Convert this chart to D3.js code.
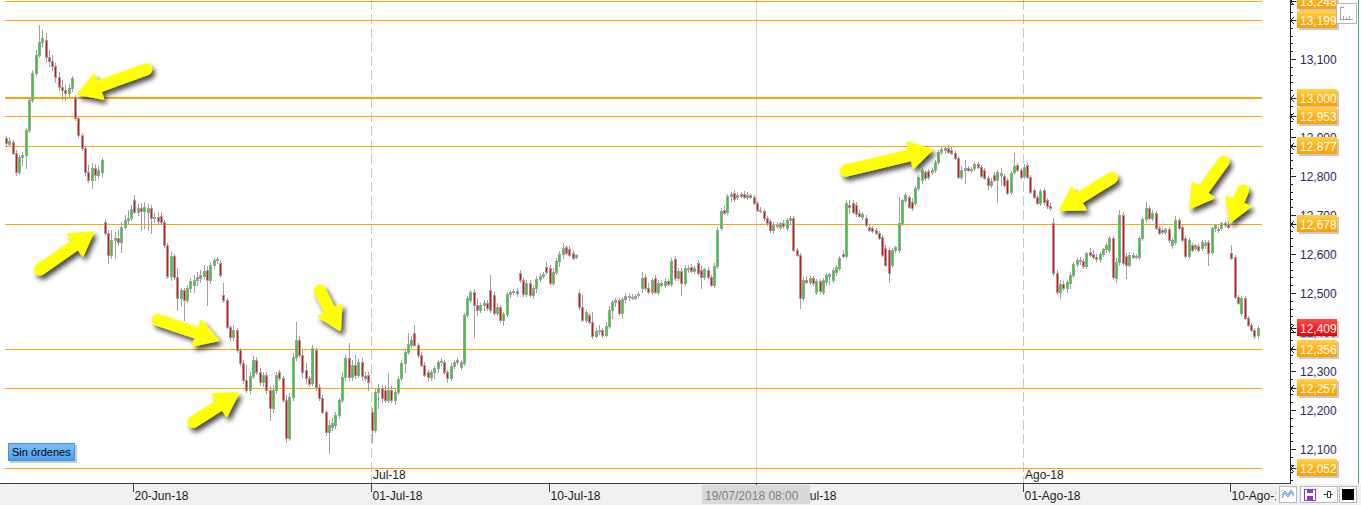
<!DOCTYPE html>
<html><head><meta charset="utf-8">
<script src="https://cdn.jsdelivr.net/npm/d3@7"></script>
<style>html,body{margin:0;padding:0;background:#fff;overflow:hidden}svg{display:block;font-family:"Liberation Sans",Arial,sans-serif}</style>
</head><body>
<svg id="c" width="1361" height="505"></svg>
<script>
// hourly candles [open, high, low, close], 13-Jun-18 (partial) .. 10-Ago-18
const candles = [
[12897,12902,12877,12885],[12882,12900,12879,12890],[12887,12892,12856,12859],
[12859,12867,12803,12810],[12810,12854,12805,12849],[12849,12861,12828,12854],[12854,12923,12820,12918],[12918,13000,12913,12995],[12995,13072,12990,13064],[13064,13123,13059,13110],[13110,13187,13105,13143],[13143,13174,13133,13154],
[13149,13166,13092,13105],[13105,13123,13082,13095],[13095,13110,13072,13082],[13082,13090,13041,13054],[13054,13066,13020,13028],[13028,13046,12995,13020],[13020,13033,12995,13013],[13013,13036,13005,13026],[13026,13056,13018,13051],
[13003,13008,12944,12949],[12949,12954,12900,12905],[12905,12910,12867,12872],[12872,12877,12803,12810],[12810,12828,12785,12790],[12790,12833,12769,12820],[12820,12831,12790,12803],[12803,12826,12795,12815],[12810,12846,12800,12841],
[12682,12690,12649,12654],[12654,12662,12577,12597],[12597,12662,12590,12636],[12636,12656,12590,12641],[12641,12662,12623,12631],[12631,12682,12605,12669],[12669,12700,12667,12687],[12687,12713,12677,12692],[12692,12726,12687,12715],
[12738,12751,12705,12708],[12708,12728,12700,12718],[12718,12731,12662,12710],[12710,12733,12667,12720],[12708,12728,12662,12718],[12718,12726,12654,12692],[12692,12705,12682,12695],[12695,12708,12677,12685],[12697,12708,12677,12682],
[12682,12687,12618,12623],[12623,12628,12538,12544],[12544,12605,12533,12595],[12595,12600,12536,12541],[12541,12564,12456,12487],[12487,12513,12467,12508],[12508,12513,12431,12482],[12482,12521,12477,12513],[12513,12538,12503,12531],
[12521,12546,12503,12533],[12533,12554,12521,12541],[12538,12559,12528,12546],[12544,12572,12538,12556],[12559,12569,12469,12533],[12533,12579,12526,12572],[12572,12590,12564,12585],[12585,12592,12577,12587],[12577,12585,12541,12546],
[12495,12526,12477,12482],[12482,12487,12410,12413],[12413,12418,12379,12387],[12387,12418,12379,12405],[12405,12410,12349,12354],[12354,12359,12315,12320],[12320,12328,12269,12277],[12277,12315,12246,12251],[12251,12297,12244,12287],
[12287,12338,12282,12328],[12328,12336,12292,12297],[12297,12308,12264,12272],[12272,12297,12262,12290],[12290,12297,12244,12251],[12251,12262,12174,12205],[12205,12264,12195,12251],[12251,12297,12244,12290],[12297,12303,12277,12282],
[12282,12287,12220,12226],[12226,12238,12118,12128],[12128,12244,12123,12233],[12233,12346,12226,12336],[12336,12426,12328,12379],[12379,12390,12336,12341],[12341,12354,12285,12297],[12303,12320,12269,12282],[12282,12287,12262,12267],
[12269,12367,12264,12359],[12354,12359,12251,12259],[12259,12267,12226,12231],[12231,12238,12192,12195],[12195,12200,12136,12144],[12144,12174,12090,12162],[12157,12179,12149,12167],[12162,12195,12154,12187],[12187,12231,12179,12226],
[12226,12297,12220,12285],[12285,12341,12277,12333],[12333,12372,12277,12285],[12285,12328,12277,12315],[12315,12341,12282,12290],[12290,12333,12285,12323],[12323,12333,12277,12287],[12287,12297,12277,12282],[12290,12297,12251,12272],
[12195,12205,12118,12149],[12149,12256,12144,12246],[12246,12267,12205,12256],[12256,12264,12220,12231],[12251,12264,12220,12226],[12226,12295,12220,12251],[12251,12262,12220,12226],[12226,12256,12215,12246],[12246,12287,12241,12279],
[12282,12328,12277,12320],[12320,12354,12297,12349],[12349,12397,12344,12369],[12367,12390,12362,12379],[12397,12418,12364,12367],[12367,12372,12336,12341],[12341,12349,12313,12315],[12315,12323,12287,12290],[12297,12303,12277,12285],
[12285,12303,12277,12297],[12297,12313,12282,12308],[12308,12328,12297,12323],[12323,12333,12315,12326],[12323,12328,12292,12297],[12297,12303,12272,12282],[12282,12320,12277,12313],[12313,12328,12308,12323],[12323,12333,12318,12328],
[12310,12328,12305,12323],[12320,12449,12315,12444],[12444,12492,12438,12487],[12482,12508,12477,12503],[12503,12510,12387,12469],[12469,12487,12444,12456],[12456,12474,12451,12469],[12469,12482,12456,12474],[12474,12482,12456,12462],
[12508,12546,12451,12456],[12495,12503,12444,12449],[12449,12474,12444,12464],[12464,12469,12426,12431],[12431,12451,12418,12446],[12446,12503,12441,12497],[12497,12508,12490,12503],[12503,12510,12497,12505],[12505,12513,12492,12500],
[12551,12559,12528,12533],[12533,12538,12492,12497],[12497,12533,12492,12526],[12526,12533,12490,12495],[12495,12521,12487,12513],[12513,12544,12503,12536],[12536,12551,12531,12544],[12544,12554,12538,12549],[12567,12579,12549,12554],
[12564,12572,12523,12526],[12526,12564,12521,12554],[12554,12590,12549,12582],[12582,12608,12569,12600],[12600,12628,12590,12615],[12618,12623,12600,12603],[12613,12620,12595,12597],[12603,12610,12587,12590],[12592,12600,12590,12597],
[12500,12508,12459,12464],[12464,12495,12428,12431],[12431,12456,12426,12451],[12444,12449,12423,12426],[12426,12451,12385,12390],[12390,12410,12387,12403],[12403,12418,12395,12405],[12405,12410,12387,12392],[12392,12426,12390,12415],
[12415,12467,12410,12456],[12456,12482,12436,12477],[12477,12487,12467,12482],[12482,12487,12444,12449],[12449,12490,12436,12485],[12485,12500,12477,12492],[12492,12500,12482,12490],[12490,12497,12485,12487],[12487,12497,12485,12492],
[12495,12503,12490,12497],[12513,12554,12503,12538],[12541,12549,12508,12513],[12513,12526,12500,12503],[12503,12538,12497,12533],[12538,12546,12500,12503],[12503,12533,12497,12526],[12526,12533,12518,12521],[12521,12538,12515,12531],
[12531,12536,12521,12523],[12523,12590,12518,12582],[12587,12595,12533,12538],[12538,12564,12533,12556],[12556,12564,12495,12526],[12526,12572,12521,12564],[12564,12572,12554,12562],[12567,12574,12554,12556],[12556,12569,12551,12564],
[12577,12585,12546,12551],[12559,12569,12513,12541],[12541,12564,12536,12562],[12559,12567,12538,12541],[12541,12546,12518,12521],[12521,12577,12515,12569],[12569,12669,12564,12662],[12667,12718,12662,12710],[12713,12723,12702,12705],
[12708,12754,12702,12749],[12749,12759,12736,12754],[12756,12764,12736,12741],[12746,12756,12741,12751],[12754,12759,12746,12749],[12754,12761,12744,12746],[12746,12759,12741,12751],[12751,12756,12744,12746],[12746,12751,12728,12731],
[12731,12736,12710,12713],[12713,12720,12708,12710],[12710,12715,12687,12692],[12692,12697,12674,12679],[12685,12690,12656,12662],[12662,12682,12654,12674],[12674,12682,12667,12672],[12669,12682,12664,12679],[12679,12687,12667,12672],
[12667,12692,12662,12687],[12687,12697,12677,12692],[12692,12697,12608,12610],[12610,12615,12595,12597],[12597,12603,12462,12487],[12487,12541,12482,12533],[12533,12544,12526,12528],[12528,12544,12523,12538],[12538,12544,12521,12526],
[12503,12536,12497,12531],[12531,12536,12500,12505],[12503,12538,12497,12533],[12528,12551,12521,12546],[12544,12551,12523,12549],[12533,12564,12528,12559],[12554,12572,12546,12567],[12564,12595,12559,12590],[12600,12610,12592,12595],
[12595,12738,12590,12731],[12726,12738,12705,12720],[12731,12738,12705,12708],[12726,12733,12697,12702],[12705,12713,12695,12697],[12695,12708,12690,12702],[12692,12700,12672,12674],[12669,12677,12659,12662],[12667,12672,12656,12659],
[12662,12667,12651,12654],[12654,12659,12638,12641],[12644,12649,12595,12597],[12615,12623,12569,12572],[12610,12618,12528,12551],[12572,12615,12567,12610],[12610,12620,12605,12618],[12610,12746,12605,12679],[12679,12741,12674,12738],
[12738,12756,12733,12751],[12746,12751,12718,12720],[12733,12744,12713,12718],[12731,12774,12726,12769],[12769,12803,12764,12797],[12790,12820,12782,12815],[12810,12815,12790,12795],[12813,12818,12792,12797],[12810,12820,12805,12815],
[12815,12841,12810,12836],[12836,12867,12831,12861],[12861,12874,12856,12869],[12867,12874,12859,12872],[12872,12879,12859,12861],[12867,12874,12856,12859],[12859,12864,12844,12846],[12846,12851,12795,12797],[12797,12826,12792,12815],
[12815,12841,12782,12820],[12820,12826,12813,12815],[12815,12823,12810,12818],[12820,12836,12815,12831],[12831,12836,12820,12823],[12823,12828,12797,12800],[12815,12820,12792,12795],[12795,12800,12767,12777],[12777,12795,12772,12787],
[12803,12810,12787,12790],[12790,12815,12733,12810],[12803,12820,12777,12808],[12800,12805,12774,12777],[12790,12795,12754,12756],[12759,12813,12754,12808],[12810,12859,12805,12826],[12828,12833,12813,12815],[12815,12820,12795,12797],
[12800,12831,12795,12823],[12828,12833,12795,12797],[12797,12803,12756,12759],[12764,12769,12744,12746],[12746,12751,12728,12731],[12731,12767,12726,12761],[12764,12769,12728,12733],[12738,12744,12718,12723],[12723,12731,12713,12718],
[12679,12692,12546,12551],[12551,12559,12497,12503],[12503,12533,12487,12523],[12523,12531,12508,12513],[12513,12533,12503,12528],[12526,12554,12513,12546],[12546,12579,12541,12574],[12574,12590,12569,12585],[12585,12592,12574,12582],
[12582,12587,12564,12569],[12569,12605,12564,12603],[12605,12615,12595,12597],[12600,12610,12590,12592],[12592,12600,12582,12587],[12587,12605,12579,12600],[12600,12615,12595,12613],[12613,12628,12605,12623],[12610,12646,12605,12641],
[12641,12646,12536,12541],[12538,12590,12528,12579],[12579,12713,12572,12700],[12700,12708,12574,12577],[12595,12603,12538,12572],[12572,12605,12569,12597],[12597,12603,12590,12592],[12595,12600,12590,12592],[12592,12646,12587,12641],
[12641,12695,12636,12690],[12690,12733,12685,12718],[12718,12723,12690,12692],[12692,12713,12687,12705],[12705,12710,12664,12667],[12667,12672,12651,12654],[12662,12667,12654,12656],[12656,12667,12651,12664],[12664,12669,12631,12636],
[12623,12641,12615,12636],[12631,12697,12626,12687],[12687,12692,12664,12667],[12669,12674,12633,12636],[12641,12646,12592,12595],[12595,12641,12590,12636],[12623,12628,12608,12610],[12615,12626,12610,12623],[12620,12626,12608,12610],
[12615,12636,12610,12631],[12623,12636,12615,12628],[12631,12636,12572,12603],[12605,12669,12600,12667],[12667,12677,12659,12674],[12664,12672,12656,12662],[12667,12682,12662,12679],[12679,12685,12669,12674],[12677,12685,12667,12669],
[12603,12623,12587,12590],[12592,12597,12487,12490],[12490,12495,12472,12474],[12449,12492,12444,12487],[12487,12492,12433,12436],[12436,12441,12415,12418],[12418,12423,12403,12405],[12405,12410,12385,12390],[12390,12415,12385,12409]
];
const levels = [13248, 13199, 13000, 12953, 12877, 12678, 12356, 12257, 12052];
const thickLevel = 13000;
const lastPrice = 12409;
const priceTicks = [12000,12100,12200,12300,12400,12500,12600,12700,12800,12900,13000,13100,13200,13300];
const dateTickIdx = [39, 111, 165, 228, 309, 372];
const dateTickLabels = ["20-Jun-18","01-Jul-18","10-Jul-18","19-Jul-18","01-Ago-18","10-Ago-18"];
const monthIdx = [111, 309];
const monthLabels = ["Jul-18","Ago-18"];
const cursorIdx = 228;
const cursorLabel = "19/07/2018 08:00";
const ordersLabel = "Sin órdenes";
// yellow annotation arrows: [tail bar, tail price, head bar, head price]
const arrows = [
  [44.1,13079, 21.7,13010],
  [8.6,12551, 26.3,12656],
  [44.1,12436, 64.2,12379],
  [55.1,12161, 70.3,12243],
  [94.2,12520, 101.2,12405],
  [253,12810, 280.9,12867],
  [337.1,12803, 319.8,12713],
  [370.5,12849, 359.3,12718],
  [376,12777, 371.4,12682]
];

const W = 1361, H = 505, axisX = 1290, plotBottom = 484;
const svg = d3.select('#c');
const x = d3.scaleLinear().domain([0, candles.length]).range([5, 1260]);
const xc = i => x(i + 0.5);
const y = d3.scaleLinear().domain([12100, 13100]).range([449, 59]);
const fmt = d3.format(',');

const defs = svg.append('defs');
const f = defs.append('filter').attr('id','sh').attr('x','-50%').attr('y','-50%').attr('width','200%').attr('height','200%');
f.append('feDropShadow').attr('dx',3).attr('dy',4).attr('stdDeviation',2.4).attr('flood-color','#000').attr('flood-opacity',0.7);
const og = defs.append('linearGradient').attr('id','og').attr('x1',0).attr('y1',0).attr('x2',0).attr('y2',1);
og.append('stop').attr('offset','0').attr('stop-color','#ffd24a');
og.append('stop').attr('offset','0.45').attr('stop-color','#ffb41a');
og.append('stop').attr('offset','1').attr('stop-color','#ff9f00');
const rg = defs.append('linearGradient').attr('id','rg').attr('x1',0).attr('y1',0).attr('x2',0).attr('y2',1);
rg.append('stop').attr('offset','0').attr('stop-color','#ff4a4a');
rg.append('stop').attr('offset','1').attr('stop-color','#ee0000');
const bg = defs.append('linearGradient').attr('id','bg').attr('x1',0).attr('y1',0).attr('x2',0).attr('y2',1);
bg.append('stop').attr('offset','0').attr('stop-color','#7cc0fa');
bg.append('stop').attr('offset','1').attr('stop-color','#4a9ef0');

svg.append('rect').attr('width',W).attr('height',H).attr('fill','#fff');

// vertical guide lines
const vg = svg.append('g').attr('shape-rendering','crispEdges');
monthIdx.forEach(i => {
  const px = Math.round(x(i)) + 0.5;
  vg.append('line').attr('x1',px).attr('x2',px).attr('y1',0).attr('y2',plotBottom)
    .attr('stroke','#c8c8c8').attr('stroke-dasharray','10,4');
});
{
  const px = Math.round(x(cursorIdx)) + 0.5;
  vg.append('line').attr('x1',px).attr('x2',px).attr('y1',0).attr('y2',plotBottom).attr('stroke','#d6d6d6');
}

// level lines
const lg = svg.append('g');
levels.forEach(v => {
  const thick = v === thickLevel;
  const py = Math.round(y(v)) + (thick ? 0 : 0.5);
  lg.append('line').attr('x1',5).attr('x2',1262).attr('y1',py).attr('y2',py)
    .attr('stroke','#ffa500').attr('stroke-width', thick ? 2 : 1).attr('shape-rendering','crispEdges');
});

// candles
const cg = svg.append('g').attr('shape-rendering','crispEdges');
candles.forEach(([o,h,l,c], i) => {
  const x0 = Math.round(x(i));
  const cx = x0 + 1.5;
  cg.append('line').attr('x1',cx).attr('x2',cx).attr('y1',Math.round(y(h))).attr('y2',Math.round(y(l)) + 1)
    .attr('stroke','#a0a0a0');
  const top = Math.round(Math.min(y(o), y(c)));
  const bh = Math.max(1, Math.round(Math.abs(y(o) - y(c))));
  cg.append('rect').attr('x',x0 + 0.5).attr('y',top + 0.5).attr('width',2).attr('height',bh)
    .attr('fill', c >= o ? '#00f000' : '#ff0000').attr('stroke','#a0a0a0');
});

// arrows
const ag = svg.append('g').attr('filter','url(#sh)');
arrows.forEach(([ti,tp,hi,hp]) => {
  const x1 = xc(ti), y1 = y(tp), x2 = xc(hi), y2 = y(hp);
  const dx = x2 - x1, dy = y2 - y1, L = Math.hypot(dx, dy);
  const ux = dx / L, uy = dy / L, nx = -uy, ny = ux;
  const hl = 22, hw = 13;
  const bx = x2 - ux * hl, by = y2 - uy * hl;
  const g = ag.append('g');
  g.append('line').attr('x1',x1 + ux*6).attr('y1',y1 + uy*6).attr('x2',bx + ux*3).attr('y2',by + uy*3)
    .attr('stroke','#ffff00').attr('stroke-width',12).attr('stroke-linecap','round');
  g.append('path').attr('d',`M${x2},${y2}L${bx+nx*hw},${by+ny*hw}L${bx-nx*hw},${by-ny*hw}Z`)
    .attr('fill','#ffff00').attr('stroke','#ffff00').attr('stroke-width',2).attr('stroke-linejoin','round');
});

// right axis
const ra = svg.append('g').attr('shape-rendering','crispEdges');
ra.append('line').attr('x1',axisX+0.5).attr('x2',axisX+0.5).attr('y1',0).attr('y2',plotBottom).attr('stroke','#222');
ra.append('line').attr('x1',1358.5).attr('x2',1358.5).attr('y1',0).attr('y2',plotBottom).attr('stroke','#3aae78');
d3.range(12000, 13320, 20).forEach(v => {
  const py = Math.round(y(v)) + 0.5;
  if (py < 0 || py > plotBottom) return;
  const major = v % 100 === 0;
  ra.append('line').attr('x1',axisX).attr('x2',axisX + (major ? 6 : 3)).attr('y1',py).attr('y2',py).attr('stroke','#222');
});
priceTicks.forEach(v => {
  const py = y(v);
  if (py < 4 || py > plotBottom - 6) return;
  svg.append('text').attr('x',1300).attr('y',py + 4.5).attr('font-size',12).attr('fill','#28285e').text(fmt(v));
});

function priceBox(v, grad) {
  const py = Math.round(y(v));
  svg.append('path').attr('d',`M${axisX+0.5},${py+0.5}h6M${axisX+0.5},${py+0.5}l3.5,-3.5M${axisX+0.5},${py+0.5}l3.5,3.5`)
    .attr('stroke','#222').attr('fill','none');
  svg.append('rect').attr('x',1299).attr('y',py - 7).attr('width',40).attr('height',17).attr('fill','#888').attr('opacity',0.45);
  svg.append('rect').attr('x',1297).attr('y',py - 9).attr('width',40).attr('height',17).attr('fill',`url(#${grad})`);
  svg.append('text').attr('x',1300).attr('y',py + 4.5).attr('font-size',12).attr('fill','#fff').text(fmt(v));
}
levels.forEach(v => priceBox(v, 'og'));
priceBox(lastPrice, 'rg');

// top-right scale icon
const ti = svg.append('g').attr('shape-rendering','crispEdges');
ti.append('rect').attr('x',1336.5).attr('y',3.5).attr('width',20).attr('height',20).attr('fill','#fff').attr('stroke','#b4b4b4');
ti.append('path').attr('d','M1340.5,7v12h12M1343.5,16v3M1346.5,17v2M1349.5,16v3M1340.5,7h3')
  .attr('stroke','#a0a0a0').attr('fill','none');

// bottom axis
svg.append('rect').attr('x',0).attr('y',plotBottom).attr('width',W).attr('height',H - plotBottom).attr('fill','#f0f0f0');
svg.append('line').attr('x1',0).attr('x2',axisX + 1).attr('y1',plotBottom - 0.5).attr('y2',plotBottom - 0.5)
  .attr('stroke','#404040').attr('shape-rendering','crispEdges');
monthIdx.forEach((i, k) => {
  svg.append('text').attr('x',Math.round(x(i)) + 2).attr('y',479).attr('font-size',12).attr('fill','#1a1a1a').text(monthLabels[k]);
});
dateTickIdx.forEach((i, k) => {
  const px = Math.round(x(i)) + 0.5;
  svg.append('line').attr('x1',px).attr('x2',px).attr('y1',plotBottom).attr('y2',plotBottom + 8)
    .attr('stroke','#404040').attr('shape-rendering','crispEdges');
  const t = svg.append('text').attr('y',500).attr('font-size',12).attr('fill','#1a1a1a').text(dateTickLabels[k]);
  if (i === cursorIdx) t.attr('x', px + 80).attr('text-anchor','end');
  else t.attr('x', px + 1);
});
{
  const px = Math.round(x(cursorIdx));
  svg.append('rect').attr('x',px - 54).attr('y',485).attr('width',108).attr('height',19).attr('fill','#d8d8d8');
  svg.append('text').attr('x',px - 51).attr('y',500).attr('font-size',12).attr('fill','#808080').text(cursorLabel);
}

// bottom-right tool icons
const bi = svg.append('g').attr('shape-rendering','crispEdges');
bi.append('rect').attr('x',1276).attr('y',485).attr('width',85).attr('height',20).attr('fill','#f0f0f0');
bi.append('rect').attr('x',1279.5).attr('y',486.5).attr('width',17).attr('height',16).attr('fill','#fff').attr('stroke','#b8b8c8');
svg.append('path').attr('d','M1282,498l3,-5l3,4l3,-5l3,4M1282,495l3,-4l3,4l3,-5l3,4').attr('stroke','#5b8fd6').attr('fill','none').attr('stroke-width',1);
bi.append('rect').attr('x',1300.5).attr('y',486.5).attr('width',37).attr('height',16).attr('fill','#fff').attr('stroke','#b8b8c8');
bi.append('rect').attr('x',1304.5).attr('y',489.5).attr('width',11).attr('height',11).attr('fill','#fff').attr('stroke','#8a3db8').attr('stroke-width',1.5);
bi.append('rect').attr('x',1307).attr('y',489).attr('width',6).attr('height',4).attr('fill','#8a3db8');
bi.append('rect').attr('x',1307).attr('y',496).attr('width',6).attr('height',4).attr('fill','#8a3db8');
svg.append('path').attr('d','M1323.5,494.5h4M1327.5,491.5v6h3v-6z M1330.5,494.5h2').attr('stroke','#333').attr('fill','none');
bi.append('rect').attr('x',1339.5).attr('y',486.5).attr('width',17).attr('height',16).attr('fill','#fff').attr('stroke','#b8b8c8');
bi.append('rect').attr('x',1342).attr('y',489).attr('width',12).attr('height',11).attr('fill','#000');

// orders button
svg.append('rect').attr('x',10).attr('y',445).attr('width',67).attr('height',18).attr('fill','#999').attr('opacity',0.5);
svg.append('rect').attr('x',8.5).attr('y',443.5).attr('width',66).attr('height',17).attr('fill','url(#bg)').attr('stroke','#4a90d8');
svg.append('text').attr('x',12).attr('y',456).attr('font-size',11).attr('fill','#000').text(ordersLabel);
</script>
</body></html>
